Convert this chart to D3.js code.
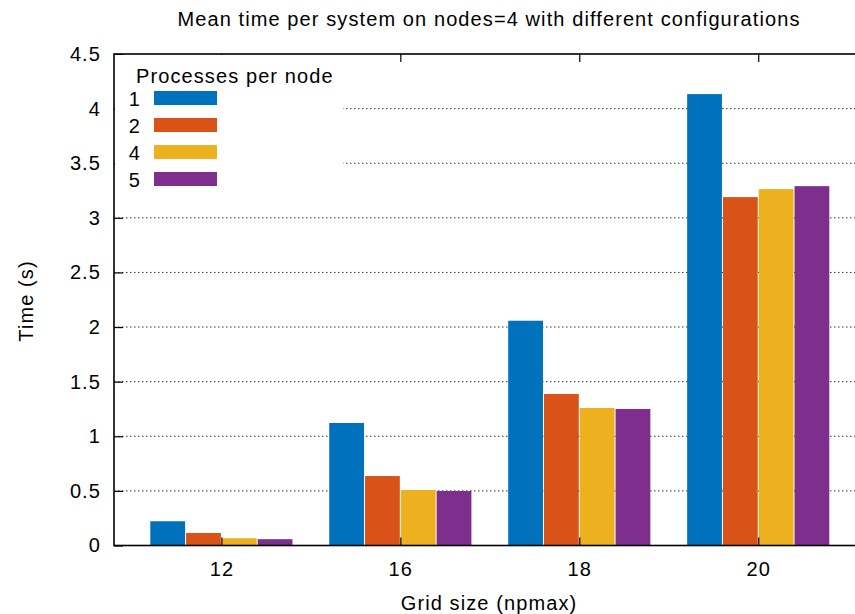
<!DOCTYPE html>
<html>
<head>
<meta charset="utf-8">
<script src="https://cdn.jsdelivr.net/npm/d3@7"></script>
<style>
  html, body { margin: 0; padding: 0; background: #fff; }
  svg { display: block; font-family: "Liberation Sans", Arial, Helvetica, sans-serif; }
  text { letter-spacing: 1.1px; }
</style>
</head>
<body>
<svg id="chart" width="855" height="614"></svg>
<script>
// Grid sizes (npmax) on the x axis
const categories = ["12", "16", "18", "20"];
// Processes per node, one series each
const seriesNames = ["1", "2", "4", "5"];
const seriesColors = ["#0072bd", "#d95319", "#edb120", "#7e2f8e"];
// Mean time (s) per grid size, one array per series
const times1 = [0.222, 1.122, 2.058, 4.133];
const times2 = [0.115, 0.636, 1.387, 3.19];
const times4 = [0.067, 0.508, 1.259, 3.263];
const times5 = [0.058, 0.499, 1.25, 3.29];
const seriesValues = [times1, times2, times4, times5];
const yTicks = [0, 0.5, 1, 1.5, 2, 2.5, 3, 3.5, 4, 4.5];

const svg = d3.select("#chart");
const plotLeft = 114, plotRight = 865.6, plotTop = 54, plotBottom = 545.5;
const fontSize = 20;

const x = d3.scalePoint().domain(categories).range([plotLeft, plotRight]).padding(0.6);
const step = x.step();
const xs = d3.scaleBand().domain(seriesNames).range([-0.4 * step, 0.4 * step]).padding(0);
const y = d3.scaleLinear().domain([0, 4.5]).range([plotBottom, plotTop]);

// dotted horizontal grid
svg.append("g").selectAll("line")
  .data(yTicks.filter(t => t > 0 && t < 4.5))
  .join("line")
  .attr("x1", plotLeft).attr("x2", plotRight)
  .attr("y1", d => y(d)).attr("y2", d => y(d))
  .attr("stroke", "#333").attr("stroke-width", 1)
  .attr("stroke-dasharray", "1.5,2.5");

// bars
const groups = svg.append("g").selectAll("g")
  .data(seriesNames)
  .join("g")
  .attr("fill", (d, i) => seriesColors[i]);
groups.selectAll("rect")
  .data((s, i) => categories.map((c, j) => ({ c, s, v: seriesValues[i][j] })))
  .join("rect")
  .attr("x", d => x(d.c) + xs(d.s) + 0.5)
  .attr("width", xs.bandwidth() - 1)
  .attr("y", d => y(d.v))
  .attr("height", d => y(0) - y(d.v));

// frame
svg.append("rect").attr("x", plotLeft).attr("y", plotTop)
  .attr("width", plotRight - plotLeft).attr("height", plotBottom - plotTop)
  .attr("stroke", "#000").attr("fill", "none").attr("stroke-width", 1.6);

// axes drawn with inward ticks
const yAxis = d3.axisLeft(y).tickValues(yTicks).tickSize(-9).tickPadding(13)
  .tickFormat(d => d3.format("")(d));
const gy = svg.append("g").attr("transform", `translate(${plotLeft},0)`).call(yAxis);
gy.select(".domain").remove();
gy.selectAll(".tick line").attr("stroke-width", 1.2);
gy.selectAll("text").attr("font-size", fontSize).attr("fill", "#000")
  .attr("font-family", "Liberation Sans, Arial, sans-serif");

const xAxis = d3.axisBottom(x).tickSize(-8).tickPadding(16);
const gx = svg.append("g").attr("transform", `translate(0,${plotBottom})`).call(xAxis);
gx.select(".domain").remove();
gx.selectAll(".tick line").attr("stroke-width", 1.2);
gx.selectAll("text").attr("font-size", fontSize).attr("fill", "#000")
  .attr("font-family", "Liberation Sans, Arial, sans-serif");

const xTop = d3.axisTop(x).tickSize(-8).tickFormat("");
const gxt = svg.append("g").attr("transform", `translate(0,${plotTop})`).call(xTop);
gxt.select(".domain").remove();
gxt.selectAll(".tick line").attr("stroke-width", 1.2);

// legend with opaque box
const legend = svg.append("g");
legend.append("rect").attr("x", plotLeft + 1).attr("y", plotTop + 1)
  .attr("width", 228).attr("height", 140).attr("fill", "#fff");
legend.append("text").attr("x", 136).attr("y", 82.5)
  .attr("font-size", fontSize).text("Processes per node");
const items = legend.selectAll("g.item").data(seriesNames).join("g")
  .attr("class", "item")
  .attr("transform", (d, i) => `translate(0,${91 + i * 27})`);
items.append("rect").attr("x", 154).attr("y", 0).attr("width", 63).attr("height", 14)
  .attr("fill", (d, i) => seriesColors[i]);
items.append("text").attr("x", 141).attr("y", 14.5).attr("text-anchor", "end")
  .attr("font-size", fontSize).text(d => d);

// titles
svg.append("text").attr("x", 489).attr("y", 26).attr("text-anchor", "middle")
  .attr("font-size", fontSize).text("Mean time per system on nodes=4 with different configurations");
svg.append("text").attr("x", 489).attr("y", 610).attr("text-anchor", "middle")
  .attr("font-size", fontSize).text("Grid size (npmax)");
svg.append("text").attr("transform", "translate(33,301) rotate(-90)")
  .attr("text-anchor", "middle").attr("font-size", fontSize).text("Time (s)");
</script>
</body>
</html>
